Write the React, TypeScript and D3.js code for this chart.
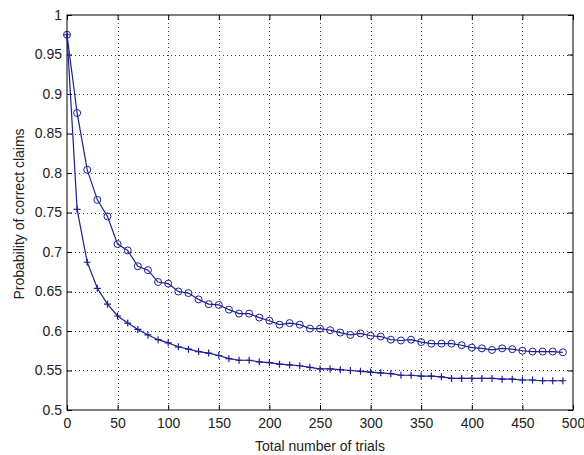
import React, { useEffect, useRef } from "react";
import { select, scaleLinear, axisBottom, axisLeft, axisTop, axisRight, line, range } from "d3";

const width = 584;
const height = 455;
const margin = { top: 15, right: 11, bottom: 45, left: 67 };

// total number of trials (x)
const trials = range(0, 500, 10);

// probability of correct claims, circle markers
const circleSeries = [
  0.975, 0.876, 0.804, 0.766, 0.745, 0.71, 0.702, 0.682, 0.677, 0.662,
  0.66, 0.65, 0.648, 0.64, 0.634, 0.633, 0.627, 0.622, 0.622, 0.617,
  0.613, 0.608, 0.61, 0.608, 0.603, 0.603, 0.601, 0.598, 0.595, 0.597,
  0.594, 0.593, 0.589, 0.588, 0.589, 0.586, 0.584, 0.584, 0.584, 0.582,
  0.579, 0.578, 0.576, 0.578, 0.577, 0.575, 0.574, 0.574, 0.574, 0.573,
];

// probability of correct claims, plus markers
const plusSeries = [
  0.975, 0.754, 0.687, 0.654, 0.634, 0.619, 0.61, 0.602, 0.595, 0.589,
  0.585, 0.58, 0.577, 0.574, 0.572, 0.569, 0.565, 0.563, 0.563, 0.561,
  0.56, 0.558, 0.557, 0.556, 0.554, 0.552, 0.552, 0.551, 0.55, 0.549,
  0.548, 0.547, 0.546, 0.544, 0.544, 0.543, 0.543, 0.542, 0.54, 0.54,
  0.54, 0.54, 0.54, 0.539, 0.539, 0.538, 0.538, 0.537, 0.537, 0.537,
];

const xTicks = range(0, 501, 50);
const yTicks = range(0, 11).map((i) => +(0.5 + i * 0.05).toFixed(2));

const lineColor = "#1e1e92";
const font = "'Liberation Sans', Arial, sans-serif";
const fontSize = 14;

const App = () => {
  const ref = useRef<SVGSVGElement>(null);

  useEffect(() => {
    const svg = select(ref.current);
    svg.selectAll("*").remove();

    const x = scaleLinear().domain([0, 500]).range([margin.left, width - margin.right]);
    const y = scaleLinear().domain([0.5, 1]).range([height - margin.bottom, margin.top]);
    const x0 = margin.left;
    const x1 = width - margin.right;
    const y0 = margin.top;
    const y1 = height - margin.bottom;

    // dotted grid
    const grid = svg.append("g").attr("stroke", "#444").attr("stroke-width", 1).attr("stroke-dasharray", "1,3");
    grid
      .selectAll("line.vx")
      .data(xTicks.slice(1, -1))
      .join("line")
      .attr("x1", (d) => Math.round(x(d)) + 0.5)
      .attr("x2", (d) => Math.round(x(d)) + 0.5)
      .attr("y1", y0)
      .attr("y2", y1);
    grid
      .selectAll("line.hy")
      .data(yTicks.slice(1, -1))
      .join("line")
      .attr("y1", (d) => Math.round(y(d)) + 0.5)
      .attr("y2", (d) => Math.round(y(d)) + 0.5)
      .attr("x1", x0)
      .attr("x2", x1);

    const styleAxis = (g) => {
      g.select(".domain").remove();
      g.selectAll(".tick line").attr("stroke", "#000");
      g.selectAll("text").attr("font-family", font).attr("font-size", fontSize).attr("fill", "#222");
    };

    svg
      .append("g")
      .attr("transform", `translate(0,${y1})`)
      .call(axisBottom(x).tickValues(xTicks).tickSizeInner(-5).tickSizeOuter(0).tickPadding(8).tickFormat((d) => String(d)))
      .call(styleAxis);
    svg
      .append("g")
      .attr("transform", `translate(0,${y0})`)
      .call(axisTop(x).tickValues(xTicks).tickSizeInner(-5).tickSizeOuter(0).tickFormat(() => ""))
      .call(styleAxis);
    svg
      .append("g")
      .attr("transform", `translate(${x0},0)`)
      .call(axisLeft(y).tickValues(yTicks).tickSizeInner(-5).tickSizeOuter(0).tickPadding(5).tickFormat((d) => String(d)))
      .call(styleAxis);
    svg
      .append("g")
      .attr("transform", `translate(${x1},0)`)
      .call(axisRight(y).tickValues(yTicks).tickSizeInner(-5).tickSizeOuter(0).tickFormat(() => ""))
      .call(styleAxis);

    // box
    svg
      .append("rect")
      .attr("x", x0)
      .attr("y", y0)
      .attr("width", x1 - x0)
      .attr("height", y1 - y0)
      .attr("fill", "none")
      .attr("stroke", "#000")
      .attr("stroke-width", 1);

    const path = line<number>()
      .x((d, i) => x(trials[i]))
      .y((d) => y(d));

    svg
      .append("path")
      .datum(circleSeries)
      .attr("fill", "none")
      .attr("stroke", lineColor)
      .attr("stroke-width", 1.2)
      .attr("d", path);
    svg
      .append("path")
      .datum(plusSeries)
      .attr("fill", "none")
      .attr("stroke", lineColor)
      .attr("stroke-width", 1.2)
      .attr("d", path);

    svg
      .append("g")
      .selectAll("circle")
      .data(circleSeries)
      .join("circle")
      .attr("cx", (d, i) => x(trials[i]))
      .attr("cy", (d) => y(d))
      .attr("r", 3.5)
      .attr("fill", "none")
      .attr("stroke", lineColor)
      .attr("stroke-width", 1);

    svg
      .append("g")
      .selectAll("path")
      .data(plusSeries)
      .join("path")
      .attr("transform", (d, i) => `translate(${x(trials[i])},${y(d)})`)
      .attr("d", "M-3.5,0H3.5M0,-3.5V3.5")
      .attr("stroke", lineColor)
      .attr("stroke-width", 1.2);

    svg
      .append("text")
      .attr("x", (x0 + x1) / 2)
      .attr("y", 451)
      .attr("text-anchor", "middle")
      .attr("font-family", font)
      .attr("font-size", fontSize)
      .attr("fill", "#222")
      .text("Total number of trials");

    svg
      .append("text")
      .attr("transform", `translate(24,214) rotate(-90)`)
      .attr("text-anchor", "middle")
      .attr("font-family", font)
      .attr("font-size", fontSize)
      .attr("fill", "#222")
      .text("Probability of correct claims");
  }, []);

  return (
    <svg
      ref={ref}
      width={width}
      height={height}
      style={{ position: "absolute", left: 0, top: 0, background: "#fff" }}
    />
  );
};

export default App;
